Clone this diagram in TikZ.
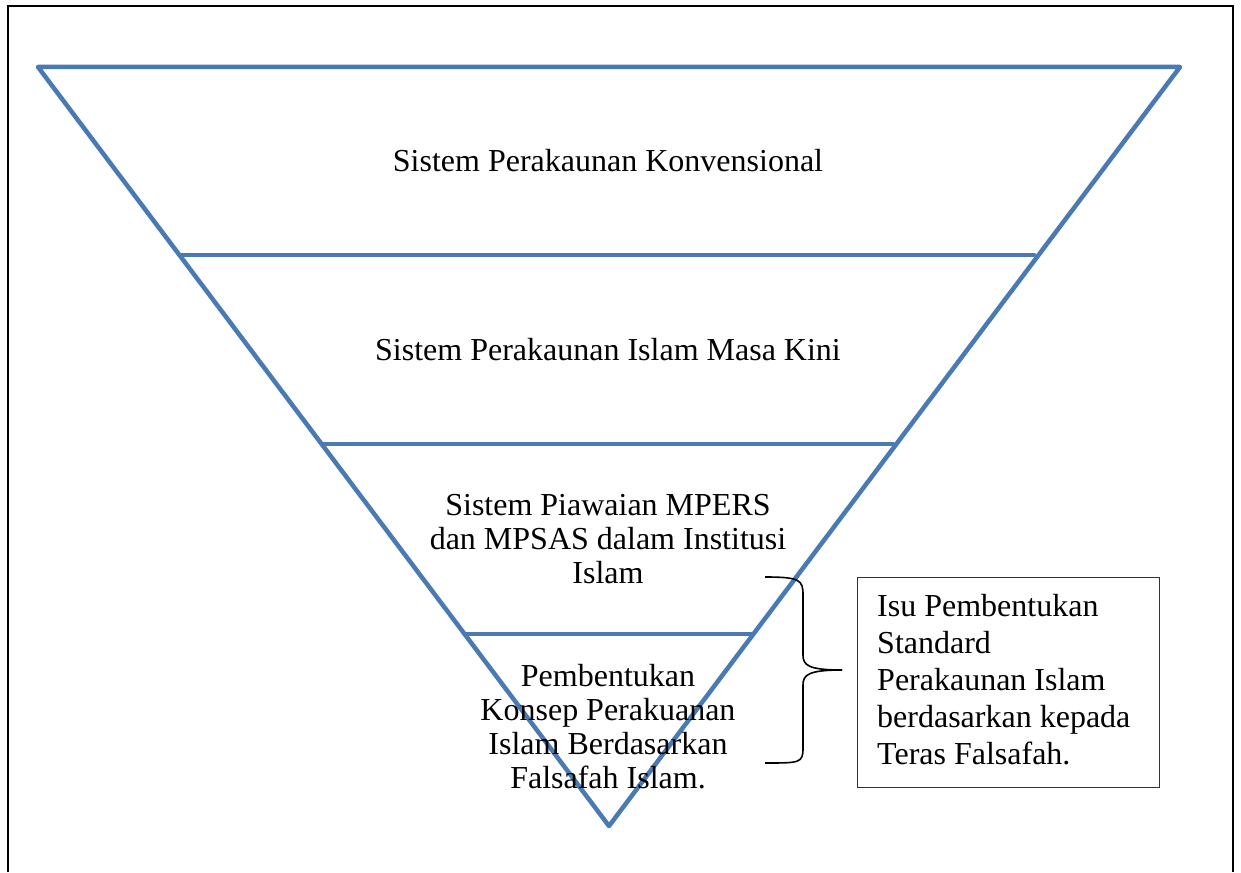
\documentclass[tikz,border=0pt]{standalone}
\usepackage{fontspec}
\setmainfont{Liberation Serif}
\definecolor{triblue}{RGB}{74,122,180}
\tikzset{
  tri/.style={draw=triblue, line width=4.5pt, line join=round, line cap=round},
  lbl/.style={font=\fontsize{32}{34}\selectfont, align=center, inner sep=0pt},
  boxlbl/.style={font=\fontsize{32}{36.8}\selectfont, align=left, inner sep=0pt},
  frame/.style={draw=black, line width=2pt},
  notebox/.style={draw=black!80, line width=1.3pt, minimum width=302pt, minimum height=210pt, inner sep=0pt},
  bracepath/.style={draw=black, line width=1.6pt}
}
\begin{document}
\begin{tikzpicture}[x=1pt,y=-1pt]
\useasboundingbox (0,0) rectangle (1241,872);
% outer frame (bottom edge is outside the page)
\draw[frame] (8,872) -- (8,6) -- (1233,6) -- (1233,872);
% triangle corners
\coordinate (tl) at (38,67);
\coordinate (tr) at (1180,67);
\coordinate (ap) at (609,826);
\coordinate (l1) at (180,255); \coordinate (r1) at (1034,255);
\coordinate (l2) at (322,444); \coordinate (r2) at (893,444);
\coordinate (l3) at (465,634); \coordinate (r3) at (751,634);
\draw[tri] (tl) -- (tr) -- (ap) -- cycle;
\draw[tri] (l1) -- (r1);
\draw[tri] (l2) -- (r2);
\draw[tri] (l3) -- (r3);
% labels (anchor base = baseline of the last line)
\node[lbl, anchor=base] (t1) at (608,171) {Sistem Perakaunan Konvensional};
\node[lbl, anchor=base] (t2) at (608,360) {Sistem Perakaunan Islam Masa Kini};
\node[lbl, anchor=base] (t3) at (608,583) {Sistem Piawaian MPERS\\dan MPSAS dalam Institusi\\Islam};
\node[lbl, anchor=base] (t4) at (608,788) {Pembentukan\\Konsep Perakuanan\\Islam Berdasarkan\\Falsafah Islam.};
% note box
\node[notebox, anchor=north west] (nb) at (857,577) {};
\node[boxlbl, anchor=base west] (nt) at (877,764) {Isu Pembentukan\\Standard\\Perakaunan Islam\\berdasarkan kepada\\Teras Falsafah.};
% brace
\coordinate (bt) at (765,577);
\coordinate (bb) at (765,763);
\coordinate (tip) at (842,670);
\draw[bracepath] (bt) .. controls (800,577) and (803,580) .. (803,595)
  -- (803,655) .. controls (803,665) and (808,670) .. (tip);
\draw[bracepath] (tip) .. controls (808,670) and (803,675) .. (803,685)
  -- (803,748) .. controls (803,763) and (800,763) .. (bb);
\end{tikzpicture}
\end{document}
